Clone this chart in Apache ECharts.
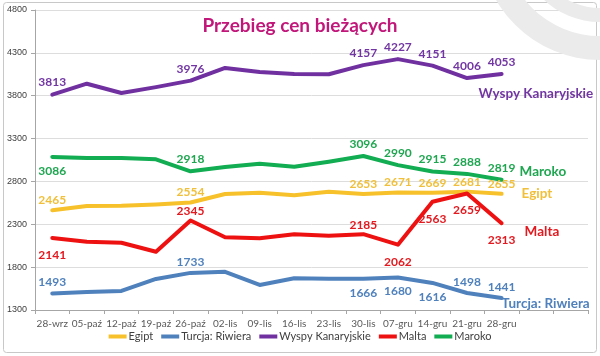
<!DOCTYPE html>
<html><head><meta charset="utf-8">
<script src="https://cdn.jsdelivr.net/npm/echarts@6/dist/echarts.min.js"></script>
<style>html,body{margin:0;padding:0;background:#fff}#c{width:600px;height:356px}</style>
</head><body><div id="c"></div>
<script>
// ---- data ----
const categories = ['28-wrz','05-paź','12-paź','19-paź','26-paź','02-lis','09-lis','16-lis','23-lis','30-lis','07-gru','14-gru','21-gru','28-gru',' ','  '];
const egipt  = [2465,2513,2515,2532,2554,2653,2669,2638,2680,2653,2671,2669,2681,2655];
const turcja = [1493,1510,1522,1662,1733,1745,1592,1670,1665,1666,1680,1616,1498,1441];
const wyspy  = [3813,3940,3832,3900,3976,4124,4077,4054,4050,4157,4227,4151,4006,4053];
const malta  = [2141,2097,2085,1980,2345,2148,2137,2183,2165,2185,2062,2563,2659,2313];
const maroko = [3086,3073,3072,3058,2918,2968,3007,2972,3030,3096,2990,2915,2888,2819];
const seriesNames = ['Egipt','Turcja: Riwiera','Wyspy Kanaryjskie','Malta','Maroko'];
const yMin = 1300, yMax = 4800, yStep = 500;
const titleText = 'Przebieg cen bieżących';

// which points carry a value label, and on which side
const labelSides = {
  'Egipt': {0:'top',4:'top',9:'top',10:'top',11:'top',12:'top',13:'top'},
  'Turcja: Riwiera': {0:'top',4:'top',9:'bottom',10:'bottom',11:'bottom',12:'top',13:'top'},
  'Wyspy Kanaryjskie': {0:'top',4:'top',9:'top',10:'top',11:'top',12:'top',13:'top'},
  'Malta': {0:'bottom',4:'top',9:'top',10:'bottom',11:'bottom',12:'bottom',13:'bottom'},
  'Maroko': {0:'bottom',4:'top',9:'top',10:'top',11:'top',12:'top',13:'top'}
};

const FONT = 'Lato, "Open Sans", sans-serif';

function mk(name, vals, color, lblColor, endOff, dTop, dBottom) {
  const sides = labelSides[name];
  return {
    name: name, type: 'line',
    data: vals.map((v, i) => sides[i] ? {value: v, label: {show: true, position: sides[i], distance: sides[i] === 'top' ? dTop : dBottom}} : v),
    symbol: 'circle', symbolSize: 0, showSymbol: true,
    lineStyle: {width: 4, color: color, cap: 'round', join: 'round'},
    itemStyle: {color: color},
    label: {show: false, color: lblColor, fontFamily: FONT, fontWeight: 'bold', fontSize: 12},
    endLabel: {show: true, formatter: name, offset: endOff, color: lblColor, fontFamily: FONT, fontWeight: 'bold', fontSize: 13.5},
    emphasis: {disabled: true},
    z: 3
  };
}

const chart = echarts.init(document.getElementById('c'), null, {renderer: 'canvas'});
chart.setOption({
  animation: false,
  backgroundColor: '#fff',
  title: {
    text: titleText, left: 'center', top: 11,
    textStyle: {fontFamily: FONT, fontWeight: 'bold', fontSize: 19, color: '#C2177A'}
  },
  graphic: [
    {type: 'rect', z: 0, shape: {x: 3.5, y: 2.5, width: 593, height: 350, r: 3}, style: {fill: 'none', stroke: '#C8C8C8', lineWidth: 1}},
    {type: 'ring', z: 1, shape: {cx: 600, cy: -60, r: 120, r0: 96}, style: {fill: '#EBEBEB'}},
    {type: 'ring', z: 1, shape: {cx: 600, cy: -60, r: 82, r0: 68}, style: {fill: '#EBEBEB'}}
  ],
  grid: {left: 35, right: 12, top: 10, bottom: 46},
  legend: {
    bottom: 9, left: 'center', icon: 'rect', itemWidth: 18, itemHeight: 4, itemGap: 8,
    data: seriesNames,
    textStyle: {fontFamily: FONT, fontSize: 11, color: '#404040', padding: [0, 0, 0, -3]}
  },
  xAxis: {
    type: 'category', data: categories, boundaryGap: true,
    axisLine: {lineStyle: {color: '#A6A6A6'}},
    axisTick: {show: true, interval: 0, length: 4, lineStyle: {color: '#A6A6A6'}},
    axisLabel: {interval: 0, fontFamily: FONT, fontSize: 10, color: '#595959', margin: 9}
  },
  yAxis: {
    type: 'value', min: yMin, max: yMax, interval: yStep,
    axisLine: {show: true, lineStyle: {color: '#A6A6A6'}},
    axisTick: {show: true, length: 4, lineStyle: {color: '#A6A6A6'}},
    axisLabel: {fontFamily: '"Liberation Sans", Arial, sans-serif', fontSize: 9, color: '#404040', margin: 8,
      formatter: v => String(v)},
    splitLine: {lineStyle: {color: '#DDDDDD'}}
  },
  series: [
    mk('Egipt', egipt, '#F7C12C', '#F0C03C', [12, 0], 4, 8),
    mk('Turcja: Riwiera', turcja, '#4F81BD', '#4F81BD', [-8, 6], 5, 8),
    mk('Wyspy Kanaryjskie', wyspy, '#7030A0', '#7236A3', [-31, 20], 6, 8),
    mk('Malta', malta, '#EE1111', '#E3191F', [15, 8], 3, 11),
    mk('Maroko', maroko, '#12AC52', '#1FA650', [10, -8], 6, 8)
  ]
});
</script></body></html>
